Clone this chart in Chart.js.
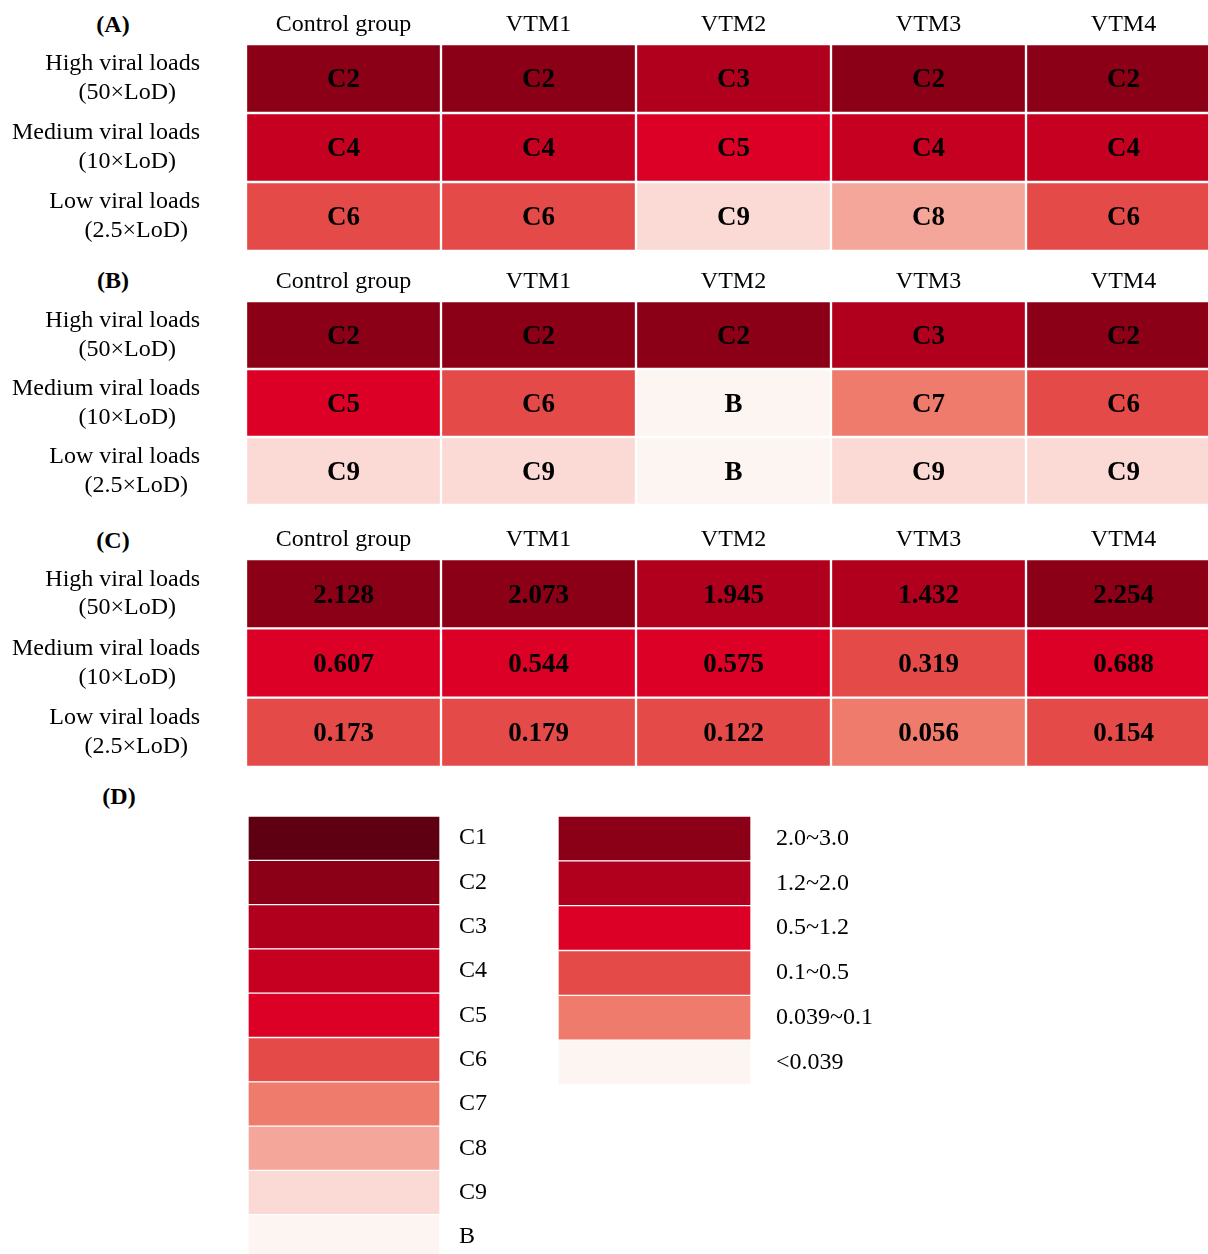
<!DOCTYPE html>
<html>
<head>
<meta charset="utf-8">
<script src="https://cdn.jsdelivr.net/npm/chart.js@4"></script>
<style>
  html, body { margin: 0; padding: 0; background: #fff; }
  body { position: relative; width: 1208px; height: 1254px; overflow: hidden; }
  canvas { position: absolute; }
  .panel { position: absolute; width: 80px; text-align: center; font: bold 24px 'Liberation Serif', serif; line-height: 28px; color: #000; }
</style>
</head>
<body>
<div class="panel" style="left:73px;top:10px">(A)</div>
<div class="panel" style="left:73px;top:266px">(B)</div>
<div class="panel" style="left:73px;top:526px">(C)</div>
<div class="panel" style="left:79px;top:782px">(D)</div>

<canvas id="chartA" width="1221" height="251" style="left:0;top:0"></canvas>
<canvas id="chartB" width="1221" height="248" style="left:0;top:257px"></canvas>
<canvas id="chartC" width="1221" height="252" style="left:0;top:515px"></canvas>
<canvas id="legendGrades" width="252" height="443" style="left:248px;top:816px"></canvas>
<canvas id="legendRanges" width="323" height="269" style="left:558px;top:816px"></canvas>

<script>
const columns = ['Control group', 'VTM1', 'VTM2', 'VTM3', 'VTM4'];
const rowLabels = [
    ['High viral loads', '(50×LoD)'],
    ['Medium viral loads', '(10×LoD)'],
    ['Low viral loads', '(2.5×LoD)']
];
// second label line sits a little left of the right edge (in spaces)
const secondLineIndent = [4, 4, 2];

const gradeLabels = ['C1', 'C2', 'C3', 'C4', 'C5', 'C6', 'C7', 'C8', 'C9', 'B'];
const gradeColors = ['#5e0011', '#8b0016', '#b0001e', '#c60021', '#dc0026',
                     '#e44a48', '#ee7b6b', '#f3a699', '#fbdad5', '#fdf5f2'];

// panel A
const gradesA = [
    ['C2', 'C2', 'C3', 'C2', 'C2'],
    ['C4', 'C4', 'C5', 'C4', 'C4'],
    ['C6', 'C6', 'C9', 'C8', 'C6']
];
// panel B
const gradesB = [
    ['C2', 'C2', 'C2', 'C3', 'C2'],
    ['C5', 'C6', 'B', 'C7', 'C6'],
    ['C9', 'C9', 'B', 'C9', 'C9']
];
// panel C
const valuesHigh = [2.128, 2.073, 1.945, 1.432, 2.254];
const valuesMedium = [0.607, 0.544, 0.575, 0.319, 0.688];
const valuesLow = [0.173, 0.179, 0.122, 0.056, 0.154];

const rangeLabels = ['2.0~3.0', '1.2~2.0', '0.5~1.2', '0.1~0.5', '0.039~0.1', '<0.039'];
const rangeMins = [2.0, 1.2, 0.5, 0.1, 0.039, 0];
const rangeGrades = ['C2', 'C3', 'C5', 'C6', 'C7', 'B'];

const serif = "'Liberation Serif', 'Times New Roman', serif";

function gradeColor(g) {
    return gradeColors[gradeLabels.indexOf(g)];
}
function valueColor(v) {
    const i = rangeMins.findIndex(m => v >= m);
    return gradeColor(rangeGrades[i]);
}
// keep the axes from shrinking the cell area
function noPadding(s) {
    s.paddingTop = 0;
    s.paddingBottom = 0;
    s.paddingLeft = 0;
    s.paddingRight = 0;
}

const cellText = {
    id: 'cellText',
    afterDatasetsDraw(chart) {
        const ctx = chart.ctx;
        ctx.save();
        ctx.font = 'bold 27px ' + serif;
        ctx.fillStyle = '#000';
        ctx.textAlign = 'center';
        ctx.textBaseline = 'middle';
        chart.data.datasets.forEach((ds, i) => {
            chart.getDatasetMeta(i).data.forEach((bar, j) => {
                const p = bar.getCenterPoint();
                ctx.fillText(ds.texts[j], p.x, p.y + 2);
            });
        });
        ctx.restore();
    }
};

function heatmap(id, texts, colors) {
    new Chart(document.getElementById(id), {
        type: 'bar',
        data: {
            labels: rowLabels,
            datasets: columns.map((name, col) => ({
                label: name,
                data: rowLabels.map(() => 1),
                texts: texts.map(r => r[col]),
                backgroundColor: colors.map(r => r[col]),
                borderColor: '#fff',
                borderWidth: 1.5,
                borderSkipped: false,
                barPercentage: 1,
                categoryPercentage: 1
            }))
        },
        options: {
            indexAxis: 'y',
            responsive: false,
            animation: false,
            plugins: {
                legend: { display: false },
                tooltip: { enabled: false }
            },
            scales: {
                x: {
                    stacked: true,
                    position: 'top',
                    min: 0,
                    max: columns.length,
                    grid: { display: false, drawTicks: false },
                    border: { display: false },
                    afterBuildTicks: s => { s.ticks = columns.map((c, i) => ({ value: i + 0.5 })); },
                    afterFit: s => { s.height = 44; noPadding(s); },
                    ticks: {
                        autoSkip: false,
                        maxRotation: 0,
                        padding: 5,
                        color: '#000',
                        font: { family: serif, size: 24 },
                        callback: (v, i) => columns[i]
                    }
                },
                y: {
                    stacked: true,
                    grid: { display: false, drawTicks: false },
                    border: { display: false },
                    afterFit: s => { s.width = 246; noPadding(s); },
                    ticks: {
                        crossAlign: 'near',
                        padding: 46,
                        color: '#000',
                        font: { family: serif, size: 24, lineHeight: 1.2 },
                        callback: (v, i) => [rowLabels[i][0], rowLabels[i][1] + '\u00a0'.repeat(secondLineIndent[i])]
                    }
                }
            }
        },
        plugins: [cellText]
    });
}

function legendChart(id, labels, colors, pad, axisWidth) {
    new Chart(document.getElementById(id), {
        type: 'bar',
        data: {
            labels: labels,
            datasets: [{
                data: labels.map(() => 1),
                backgroundColor: colors,
                borderColor: '#fff',
                borderWidth: 1,
                borderSkipped: false,
                barPercentage: 1,
                categoryPercentage: 1
            }]
        },
        options: {
            indexAxis: 'y',
            responsive: false,
            animation: false,
            plugins: {
                legend: { display: false },
                tooltip: { enabled: false }
            },
            scales: {
                x: { display: false, min: 0, max: 1 },
                y: {
                    position: 'right',
                    grid: { display: false, drawTicks: false },
                    border: { display: false },
                    afterFit: s => { s.width = axisWidth; noPadding(s); },
                    ticks: { padding: pad, color: '#000', font: { family: serif, size: 24 } }
                }
            }
        }
    });
}

heatmap('chartA', gradesA, gradesA.map(r => r.map(gradeColor)));
heatmap('chartB', gradesB, gradesB.map(r => r.map(gradeColor)));

const valuesC = [valuesHigh, valuesMedium, valuesLow];
heatmap('chartC', valuesC.map(r => r.map(v => v.toFixed(3))), valuesC.map(r => r.map(valueColor)));

legendChart('legendGrades', gradeLabels, gradeColors, 19, 60);
legendChart('legendRanges', rangeLabels, rangeGrades.map(gradeColor), 25, 130);
</script>
</body>
</html>
